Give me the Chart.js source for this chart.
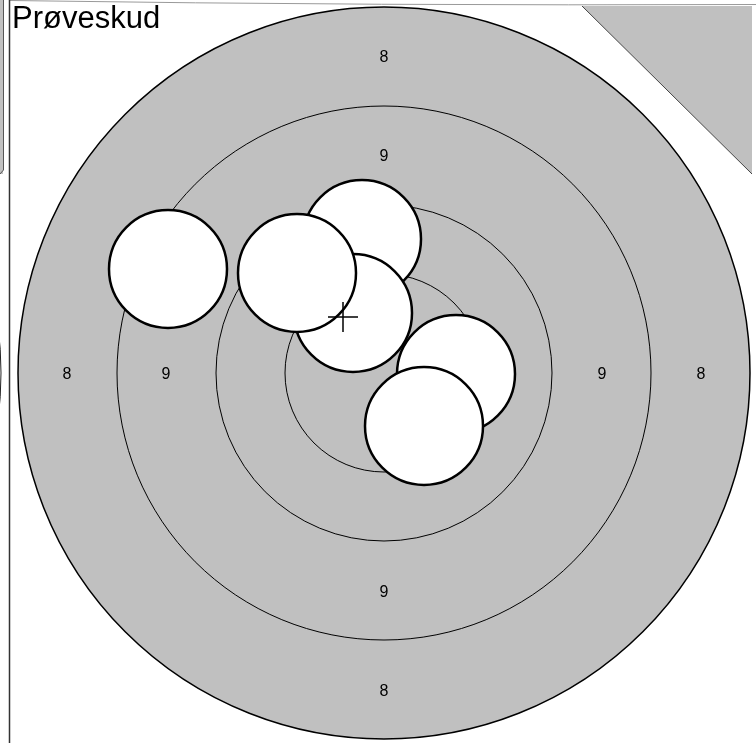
<!DOCTYPE html>
<html>
<head>
<meta charset="utf-8">
<script src="https://cdn.jsdelivr.net/npm/chart.js@4.4.1/dist/chart.umd.min.js"></script>
<style>
  html, body { margin: 0; padding: 0; background: #fff; }
  canvas { display: block; }
</style>
</head>
<body>
<canvas id="target" width="756" height="743"></canvas>
<script>
// target units, centre of the target = (0, 0)
const title = 'Prøveskud';
const ringRadii = [366, 267, 168, 99];
const ringLabels = ['8', '9'];
const labelRadii = [317, 218];
// shots in the order they are drawn (later ones lie on top)
const shotX = [-216, -22, -31, -87, 72, 40];
const shotY = [104, 134, 60, 100, -1, -53];
const shotRadius = 59;
const groupCentre = [-41, 56];

const GREY = '#c0c0c0';

function unitsToPx(chart, r) {
  const sx = chart.scales.x;
  return Math.abs(sx.getPixelForValue(r) - sx.getPixelForValue(0));
}

// bits of the neighbouring panels that show at the edges
const framePlugin = {
  id: 'frame',
  beforeDatasetsDraw(chart) {
    const ctx = chart.ctx;
    const w = chart.width, h = chart.height;
    ctx.save();
    ctx.fillStyle = GREY;
    ctx.fillRect(0, 0, 3, 174);
    ctx.strokeStyle = '#555';
    ctx.lineWidth = 1;
    ctx.beginPath();
    ctx.moveTo(3.5, 0); ctx.lineTo(3.5, 170); ctx.lineTo(0, 174);
    ctx.stroke();
    ctx.beginPath();
    ctx.arc(-365, 373, 366, -0.13, 0.13);
    ctx.strokeStyle = '#222';
    ctx.stroke();
    // top edge
    ctx.strokeStyle = '#999';
    ctx.beginPath();
    ctx.moveTo(10, 0.5); ctx.quadraticCurveTo(380, 6, w, 4.5);
    ctx.stroke();
    // top right corner piece
    ctx.fillStyle = GREY;
    ctx.beginPath();
    ctx.moveTo(582, 6); ctx.lineTo(752, 6); ctx.lineTo(752, 174); ctx.closePath();
    ctx.fill();
    ctx.strokeStyle = '#444';
    ctx.beginPath();
    ctx.moveTo(582, 6); ctx.lineTo(752, 174);
    ctx.stroke();
    // panel border
    ctx.strokeStyle = '#333';
    ctx.lineWidth = 1.5;
    ctx.beginPath();
    ctx.moveTo(9.5, 0); ctx.lineTo(9.5, h);
    ctx.stroke();
    ctx.restore();
  },
  afterDatasetDraw(chart, args) {
    if (args.meta.label !== 'rings') return;
    const ctx = chart.ctx;
    const sx = chart.scales.x, sy = chart.scales.y;
    ctx.save();
    ctx.fillStyle = '#000';
    ctx.font = '16px "Liberation Sans", Arial, sans-serif';
    ctx.textAlign = 'center';
    ctx.textBaseline = 'alphabetic';
    ringLabels.forEach((lab, i) => {
      const r = labelRadii[i];
      [[0, r], [0, -r], [-r, 0], [r, 0]].forEach(p => {
        // digits centred on the point
        ctx.fillText(lab, sx.getPixelForValue(p[0]), sy.getPixelForValue(p[1]) + 6);
      });
    });
    ctx.restore();
  },
  afterDraw(chart) {
    const ctx = chart.ctx;
    ctx.save();
    ctx.fillStyle = '#000';
    ctx.font = '31px "Liberation Sans", Arial, sans-serif';
    ctx.textBaseline = 'alphabetic';
    ctx.fillText(title, 12, 28);
    ctx.restore();
  }
};

// Chart.js paints dataset 0 last, so the rings go at the end of the list
new Chart(document.getElementById('target'), {
  type: 'scatter',
  data: {
    datasets: [{
      label: 'centre',
      data: [{ x: groupCentre[0], y: groupCentre[1] }],
      pointStyle: 'cross',
      pointRadius: 15,
      pointBorderColor: '#000',
      pointBorderWidth: 1.5,
      clip: false
    }, {
      label: 'shots',
      data: shotX.map((x, i) => ({ x: x, y: shotY[i] })),
      pointRadius: c => unitsToPx(c.chart, shotRadius),
      pointBackgroundColor: '#fff',
      pointBorderColor: '#000',
      pointBorderWidth: 2.5,
      clip: false
    }, {
      label: 'rings',
      data: ringRadii.map(r => ({ x: 0, y: 0, r: r })),
      pointRadius: c => unitsToPx(c.chart, c.raw.r),
      pointBackgroundColor: c => c.dataIndex === 0 ? GREY : 'rgba(0,0,0,0)',
      pointBorderColor: '#000',
      pointBorderWidth: c => c.dataIndex === 0 ? 1.5 : 1,
      clip: false
    }]
  },
  options: {
    responsive: false,
    animation: false,
    events: [],
    devicePixelRatio: 1,
    layout: { padding: 0, autoPadding: false },
    plugins: { legend: { display: false }, title: { display: false }, tooltip: { enabled: false } },
    scales: {
      x: { type: 'linear', min: -384, max: 372, display: false },
      y: { type: 'linear', min: -370, max: 373, display: false }
    }
  },
  plugins: [framePlugin]
});
</script>
</body>
</html>
